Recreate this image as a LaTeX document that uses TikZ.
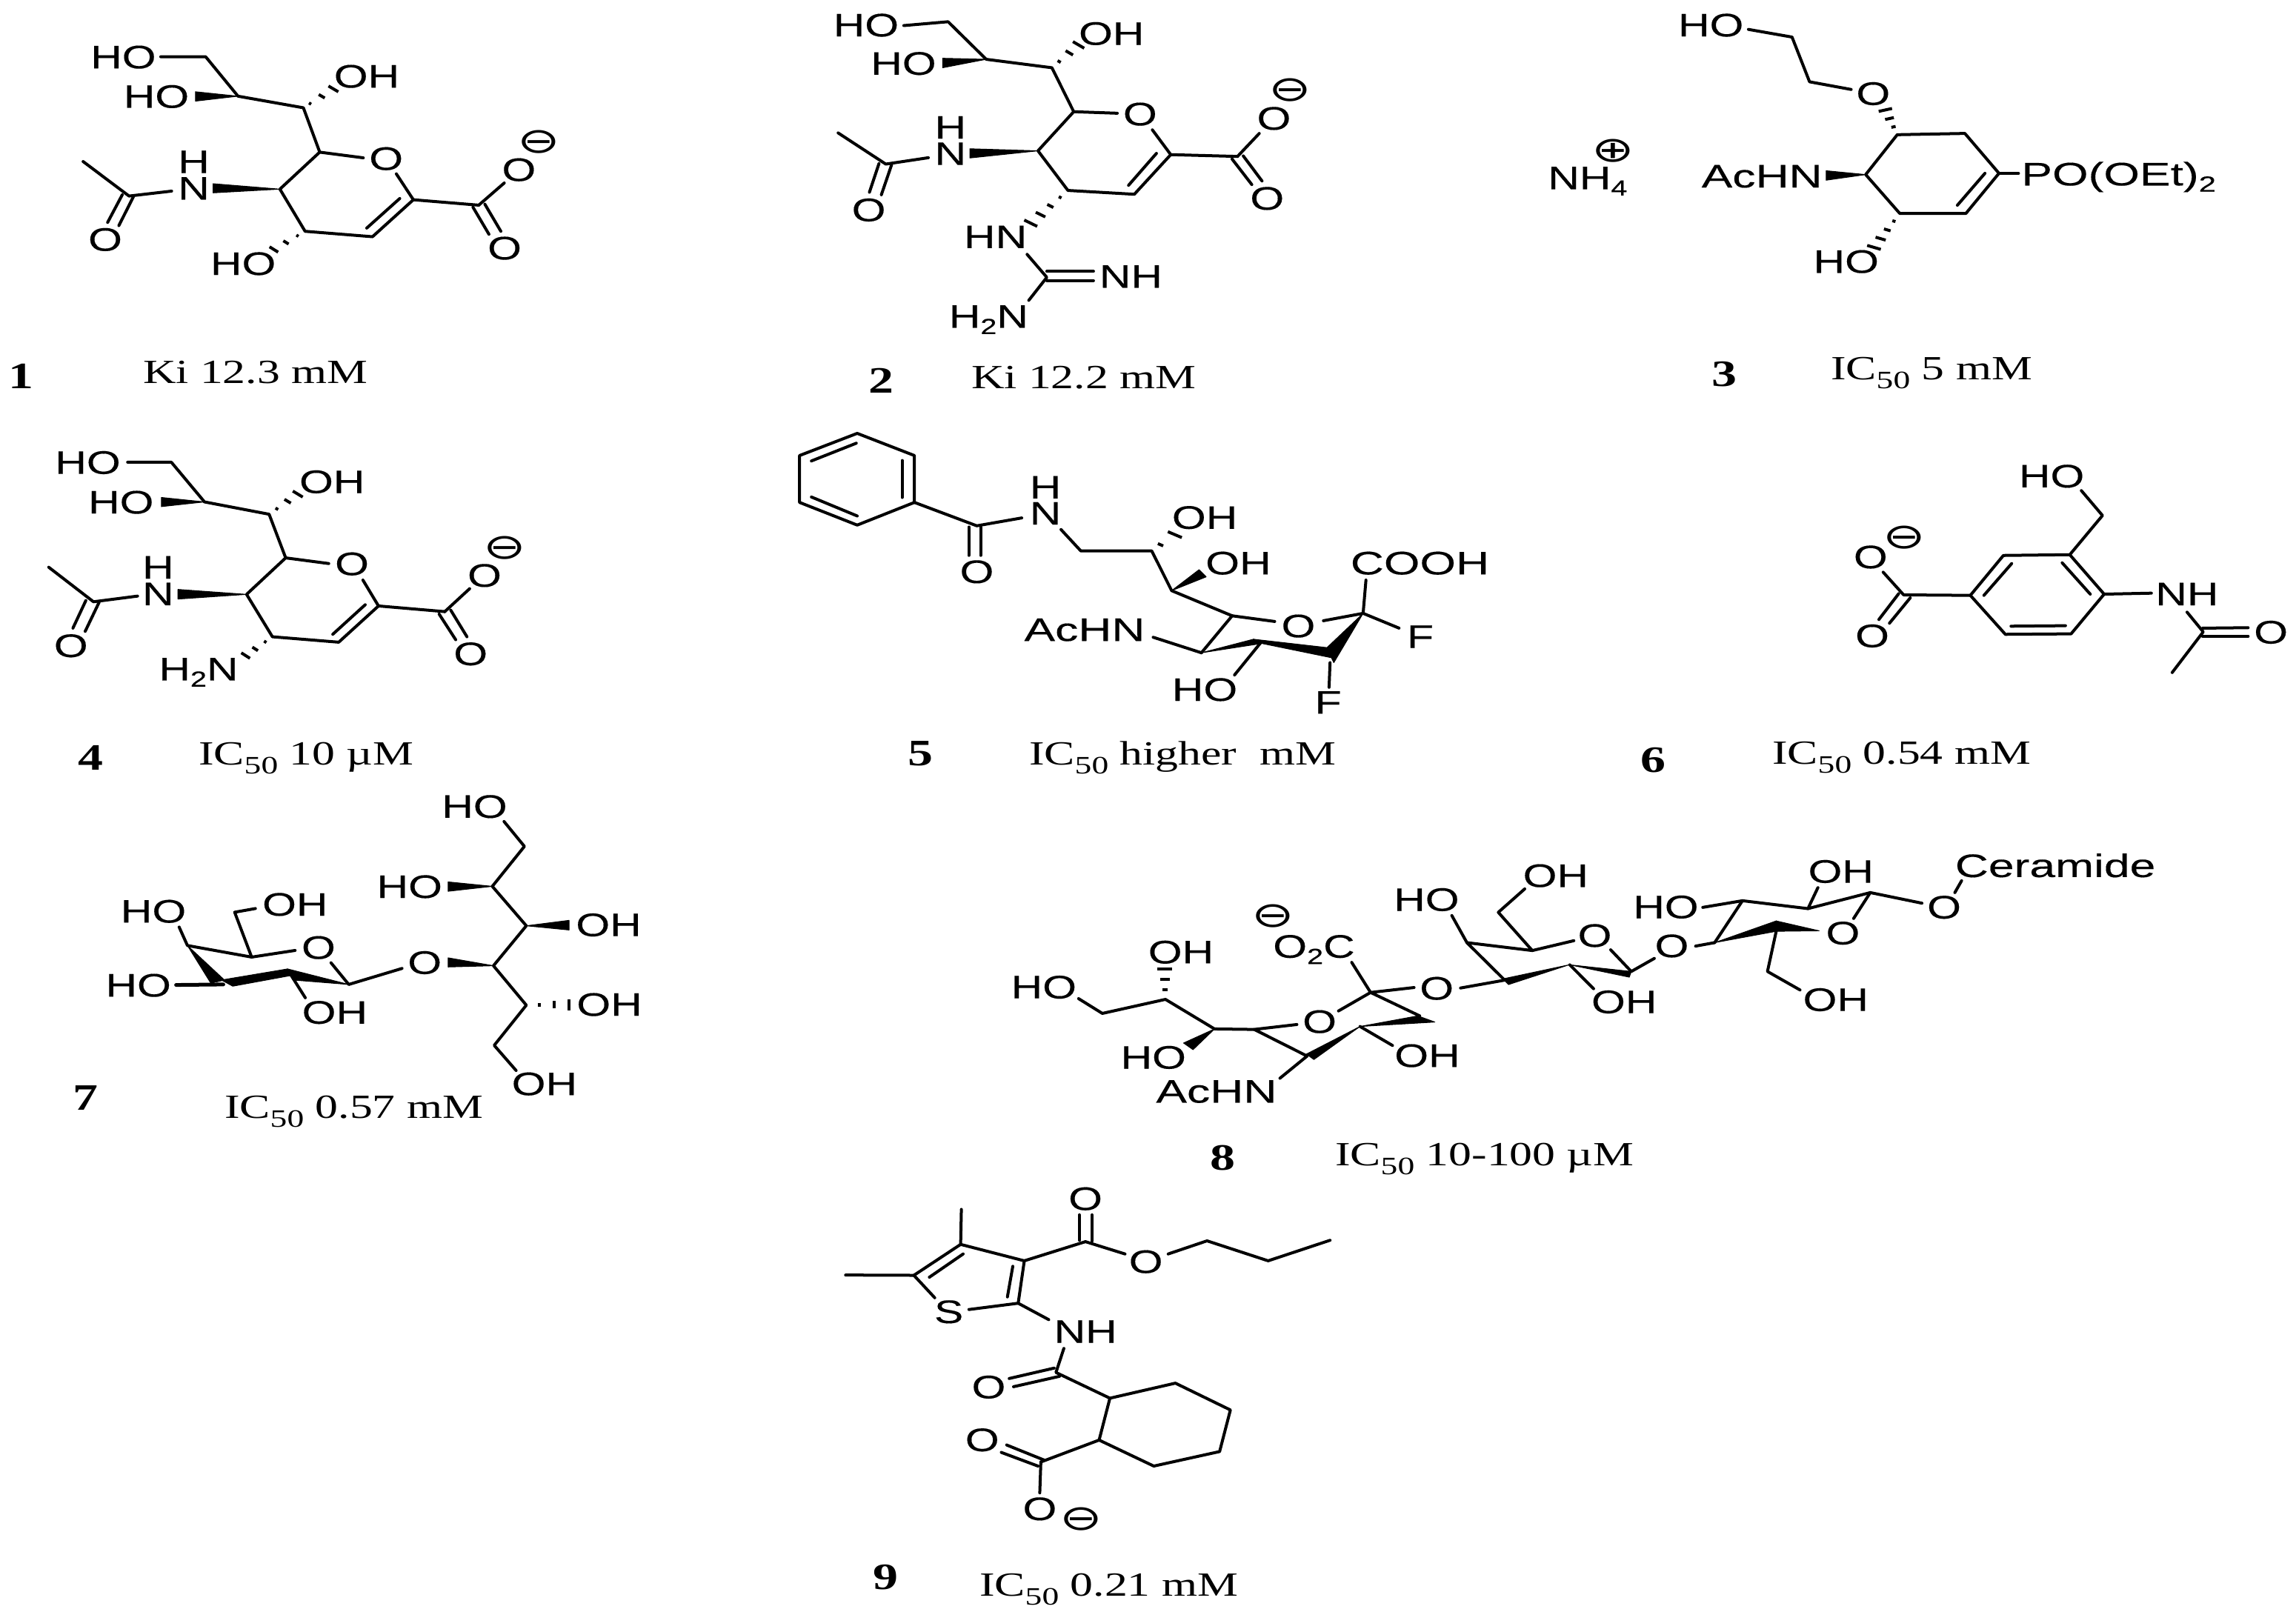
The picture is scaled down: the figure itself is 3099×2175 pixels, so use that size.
\documentclass[tikz,border=0pt]{standalone}
\usepackage{fontspec}
\usetikzlibrary{calc}
\newfontfamily\atomfont[FakeStretch=1.34,FakeBold=0.25]{Liberation Sans}
\newfontfamily\wordfont[FakeStretch=1.42,FakeBold=0.25]{Liberation Sans}
\newfontfamily\capfont[FakeStretch=1.35]{Liberation Serif}
\newfontfamily\chgfont[FakeStretch=1.45]{DejaVu Sans}
\tikzset{
  bond/.style={line width=0.04cm,line join=round,line cap=round,draw=black},
  hashl/.style={line width=0.04cm,line cap=butt,draw=black},
  wedgef/.style={fill=black,draw=black,line width=0.01cm,line join=round},
  atom/.style={inner sep=0pt,outer sep=0pt,anchor=center,font=\atomfont\fontsize{12.5}{12}\selectfont,text height=8.9pt,text depth=0pt},
  wordatom/.style={atom,font=\wordfont\fontsize{12.5}{12}\selectfont},
  chg/.style={inner sep=0pt,outer sep=0pt,anchor=center,font=\chgfont\fontsize{13.5}{13.5}\selectfont},
  capt/.style={inner sep=0pt,outer sep=0pt,anchor=west,font=\capfont\fontsize{13}{13}\selectfont,text height=8.5pt,text depth=0pt},
  numb/.style={inner sep=0pt,outer sep=0pt,anchor=center,font=\capfont\bfseries\fontsize{14.3}{15}\selectfont,text height=9.6pt,text depth=0pt},
}
\newcommand\pts[1]{\foreach \pn/\px/\py in {#1}{\coordinate (\pn) at (\px,\py);}}
\newcommand\bonds[1]{\foreach \ba/\bb in {#1}{\draw[bond] (\ba) -- (\bb);}}
\newcommand\wdg[5]{\fill[wedgef] (#1) -- (#2,#3) -- (#4,#5) -- cycle;}
\newcommand\hsh[5]{\foreach \ht in {#5}{\draw[hashl] ($(#1)!\ht!(#2)$) ++(\ht*#3,\ht*#4) -- ++(-2*\ht*#3,-2*\ht*#4);}}
\newcommand\lab[4]{\node[atom] (#1) at (#2,#3) {#4};}
\newcommand\wlab[4]{\node[wordatom] (#1) at (#2,#3) {#4};}
\newcommand\mns[3]{\node[chg] (#1) at (#2,#3) {⊖};}
\newcommand\sbs[1]{\raisebox{-2.4pt}{\fontsize{8.4}{8}\selectfont #1}}
\newcommand\icf{IC\raisebox{-3.3pt}{\fontsize{9.6}{9}\selectfont 50}}
\begin{document}
\begin{tikzpicture}[x=0.01cm,y=-0.01cm]
\path[fill=white,use as bounding box] (0,0) rectangle (3099,2175);

% ---------- compound 1
\begin{scope}[shift={(80,30)},x=0.004592cm,y=-0.003333cm]
\lab{aHOa}{188}{140}{HO}\lab{aHOb}{285}{300}{HO}\lab{aOHa}{903}{218}{OH}
\lab{aH}{395}{565}{H}\lab{aN}{395}{672}{N}\lab{aOr}{960}{552}{O}
\lab{aOm}{1350}{597}{O}\mns{aChg}{1408}{485}\lab{aOd}{1308}{915}{O}
\lab{aOc}{135}{880}{O}\lab{aHOc}{540}{978}{HO}
\pts{a0/298/140,a1/430/140,a2/525/300,a3/717/347,a4/765/527,a4e/893/550,a5/648/677,a6/722/848,a7/920/870,a8/1040/720,a8e/990/615,a7i/903/835,a8i/1000/715,a9/1232/742,a9e/1307/652,a9p/1215/750,a9q/1262/860,a9r/1250/738,a9s/1297/848,a3h/815/262,a6h/620/930,aNe/330/685,a10/205/705,aMe/70/565,a10p/185/700,a10q/142/812,a10r/218/707,a10s/175/825}
\draw[bond] (a0)--(a1)--(a2)--(a3)--(a4)--(a5)--(a6)--(a7)--(a8)--(a8e);
\draw[bond] (a4)--(a4e);\draw[bond] (aNe)--(a10)--(aMe);
\bonds{a7i/a8i,a8/a9,a9/a9e,a9p/a9q,a9r/a9s,a10p/a10q,a10r/a10s}
\wdg{a2}{400}{282}{400}{320}\wdg{a5}{452}{655}{452}{692}
\hsh{a3}{a3h}{16}{13}{0.2,0.55,0.9}
\hsh{a6}{a6h}{14}{12}{0.22,0.55,0.9}
\end{scope}

% ---------- compound 2
\begin{scope}[shift={(1060,0)},x=0.004592cm,y=-0.003444cm]
\lab{bHOa}{237}{97}{HO}\lab{bHOb}{347}{247}{HO}\lab{bOHa}{958}{130}{OH}
\lab{bH}{485}{497}{H}\lab{bN}{485}{600}{N}\lab{bOr}{1042}{445}{O}
\lab{bOm}{1435}{462}{O}\mns{bChg}{1483}{352}\lab{bOd}{1415}{775}{O}
\lab{bOc}{245}{820}{O}\lab{bHN}{617}{925}{HN}\lab{bNH}{1015}{1080}{NH}
\lab{bHHN}{597}{1237}{H\sbs{2}N}
\pts{b0/348/100,b1/478/85,b2/590/232,b3/783/265,b4/847/437,b4e/975/443,b5/742/590,b6/830/745,b7/1025/760,b8/1132/605,b8e/1078/508,b7i/1008/725,b8i/1090/600,b9/1328/612,b9e/1392/522,b9p/1312/622,b9q/1370/722,b9r/1345/610,b9s/1400/708,b3h/868/168,b6h/715/880,bMe/155/520,b10/295/642,bNe/420/617,b10p/275/640,b10q/247/752,b10r/312/645,b10s/282/762,bg0/710/995,bg/768/1085,bgp/768/1062,bgq/905/1062,bgr/768/1098,bgs/905/1098,bge/715/1175}
\draw[bond] (b0)--(b1)--(b2)--(b3)--(b4)--(b5)--(b6)--(b7)--(b8)--(b8e);
\draw[bond] (b4)--(b4e);\draw[bond] (bNe)--(b10)--(bMe);\draw[bond] (bg0)--(bg)--(bge);
\bonds{b7i/b8i,b8/b9,b9/b9e,b9p/b9q,b9r/b9s,b10p/b10q,b10r/b10s,bgp/bgq,bgr/bgs}
\wdg{b2}{462}{228}{462}{265}\wdg{b5}{542}{582}{542}{618}
\hsh{b3}{b3h}{18}{14}{0.25,0.6,0.92}
\hsh{b6}{b6h}{20}{13}{0.2,0.45,0.7,0.95}
\end{scope}

% ---------- compound 3
\begin{scope}[shift={(2040,0)},x=0.006754cm,y=-0.003444cm]
\lab{cHOa}{398}{97}{HO}\lab{cO}{722}{365}{O}
\node[chg] (cChg) at (203,590) {⊕};
\lab{cNH}{152}{695}{NH\sbs{4}}
\wlab{cAc}{500}{688}{AcHN}\wlab{cPO}{1212}{680}{PO(OEt)\sbs{2}}\lab{cHOb}{668}{1022}{HO}
\pts{c0/473/115,c1/560/145,c2/595/320,c3/678/350,cr1/770/527,cr2/905/522,cr3/973/678,cr4/907/835,cr5/775/835,cr6/707/683,cip/945/678,ciq/890/803,cPe/1012/678,ch1/745/425,ch2/722/972}
\draw[bond] (c0)--(c1)--(c2)--(c3);
\draw[bond] (cr1)--(cr2)--(cr3)--(cr4)--(cr5)--(cr6)--cycle;
\bonds{cip/ciq,cr3/cPe}
\wdg{cr6}{628}{668}{628}{705}
\hsh{cr1}{ch1}{14}{-6}{0.3,0.62,0.95}
\hsh{cr5}{ch2}{14}{8}{0.22,0.47,0.72,0.97}
\end{scope}

% ---------- compound 4
\begin{scope}[shift={(30,580)},x=0.004464cm,y=-0.003333cm]
\lab{dHOa}{198}{132}{HO}\lab{dHOb}{298}{293}{HO}\lab{dOHa}{935}{210}{OH}
\lab{dH}{410}{557}{H}\lab{dN}{410}{665}{N}\lab{dOr}{995}{543}{O}
\lab{dOm}{1395}{590}{O}\mns{dChg}{1457}{478}\lab{dOd}{1353}{908}{O}
\lab{dOc}{147}{875}{O}\lab{dHHN}{532}{970}{H\sbs{2}N}
\pts{d0/318/132,d1/450/132,d2/550/293,d3/745/343,d4/795/520,d4e/925/543,d5/677/668,d6/755/840,d7/955/862,d8/1075/715,d8e/1028/610,d7i/937/830,d8i/1035/710,d9/1275/738,d9e/1350/645,d9p/1258/748,d9q/1308/852,d9r/1293/732,d9s/1342/840,d3h/838/255,d6h/668/922,dNe/348/675,d10/215/698,dMe/80/558,d10p/192/693,d10q/153/805,d10r/232/700,d10s/190/818}
\draw[bond] (d0)--(d1)--(d2)--(d3)--(d4)--(d5)--(d6)--(d7)--(d8)--(d8e);
\draw[bond] (d4)--(d4e);\draw[bond] (dNe)--(d10)--(dMe);
\bonds{d7i/d8i,d8/d9,d9/d9e,d9p/d9q,d9r/d9s,d10p/d10q,d10r/d10s}
\wdg{d2}{420}{275}{420}{312}\wdg{d5}{470}{648}{470}{687}
\hsh{d3}{d3h}{16}{13}{0.25,0.6,0.93}
\hsh{d6}{d6h}{14}{12}{0.25,0.6,0.93}
\end{scope}

% ---------- compound 5
\begin{scope}[shift={(1060,570)},x=0.006378cm,y=-0.003333cm]
\lab{eO}{405}{605}{O}\lab{eH}{550}{262}{H}\lab{eN}{550}{368}{N}
\lab{eOHa}{887}{385}{OH}\lab{eOHb}{958}{570}{OH}\wlab{eCOOH}{1342}{570}{COOH}
\wlab{eAc}{633}{840}{AcHN}\lab{eOr}{1085}{825}{O}\lab{eFa}{1343}{868}{F}
\lab{eFb}{1148}{1135}{F}\lab{eHO}{887}{1083}{HO}
\pts{e1/152/45,e2/273/135,e3/273/325,e4/152/417,e5/30/325,e6/30/135,e1i/150/85,e6i/55/157,e2i/247/155,e3i/247/305,e4i/152/380,e5i/55/303,ec/405/420,eNe/500/388,ecp/388/425,ecq/388/540,ecr/413/425,ecs/413/540,eN2/583/435,ea/625/522,eb/775/522,ef/817/683,eg/945/785,eOe/1035/808,eOf/1138/805,eq/1222/775,et/880/935,eAe/778/872,eu/1005/895,ev/1152/975,eFe/1150/1075,eFf/1298/835,eCe/1228/640,eHe/950/1025,ebh/828/450}
\draw[bond] (e1)--(e2)--(e3)--(e4)--(e5)--(e6)--cycle;
\bonds{e1i/e6i,e2i/e3i,e4i/e5i,ecp/ecq,ecr/ecs,eg/et,eAe/et,eOf/eq,ev/eFe,eq/eFf,eCe/eq,eu/eHe,eg/eOe}
\draw[bond] (e3)--(ec)--(eNe);
\draw[bond] (eN2)--(ea)--(eb)--(ef)--(eg);
\wdg{et}{990}{880}{1015}{895}
\fill[wedgef] (990,880) -- (1150,915) -- (1155,955) -- (1010,898) -- cycle;
\wdg{eq}{1145}{915}{1160}{975}
\wdg{ef}{875}{598}{890}{627}
\hsh{eb}{ebh}{16}{13}{0.35,0.92}
\end{scope}

% ---------- compound 6
\begin{scope}[shift={(2400,600)},x=0.004458cm,y=-0.003333cm]
\lab{fHO}{828}{127}{HO}\lab{fOm}{280}{455}{O}\mns{fChg}{383}{377}
\lab{fOd}{285}{775}{O}\lab{fNH}{1238}{605}{NH}\lab{fOc}{1492}{760}{O}
\pts{f1/582/612,f2/682/450,f3/883/447,f4/987/607,f5/887/768,f6/688/770,f1i/623/612,f2i/707/483,f3i/860/480,f4i/945/607,f5i/870/735,f6i/705/737,f7/982/288,f7e/918/187,fNe/1130/603,fc/380/610,fce/318/518,fcp/365/605,fcq/305/710,fcr/400/622,fcs/337/725,fNf/1238/680,fa/1287/760,fMe/1193/925,fap/1285/745,faq/1423/743,far/1285/778,fas/1423/778}
\draw[bond] (f1)--(f2)--(f3)--(f4)--(f5)--(f6)--cycle;
\bonds{f1i/f2i,f3i/f4i,f5i/f6i,f4/fNe,fcp/fcq,fcr/fcs,fap/faq,far/fas}
\draw[bond] (f3)--(f7)--(f7e);
\draw[bond] (f1)--(fc)--(fce);
\draw[bond] (fNf)--(fa)--(fMe);
\end{scope}

% ---------- compound 7
\begin{scope}[shift={(100,1050)},x=0.005102cm,y=-0.003333cm]
\lab{gHOa}{1060}{115}{HO}\lab{gHOb}{888}{440}{HO}\lab{gOHa}{1415}{595}{OH}
\lab{gOg}{928}{748}{O}\lab{gOHb}{1417}{918}{OH}\lab{gOHc}{1245}{1240}{OH}
\lab{gHOc}{210}{540}{HO}\lab{gOHd}{585}{512}{OH}\lab{gOr}{647}{687}{O}
\lab{gHOd}{170}{840}{HO}\lab{gOHe}{690}{950}{OH}
\pts{g0/1138/177,g1/1192/278,g2/1107/440,g3/1197/600,g4/1110/762,g5/1197/922,g6/1112/1085,g7/1170/1187,g5h/1315/920,gOe/868/773,ga/727/838,gOf/680/750,gOh/585/700,gb/470/727,gc/425/545,gOHx/480/530,gd/300/680,gHx/278/605,ge/570/790,gOy/612/892,gHz/270/840,gf/395/838}
\draw[bond] (g0)--(g1)--(g2)--(g3)--(g4)--(g5)--(g6)--(g7);
\draw[bond] (gOe)--(ga)--(gOf);
\draw[bond] (gOh)--(gb)--(gc)--(gOHx);
\draw[bond] (gb)--(gd)--(gHx);
\bonds{ge/gOy}
\draw[bond,line width=0.05cm] (gHz)--(gf);
\wdg{g2}{990}{422}{990}{460}\wdg{g3}{1310}{578}{1310}{617}\wdg{g4}{990}{730}{990}{767}
\hsh{g5}{g5h}{0}{24}{0.3,0.62,0.95}
\wdg{gd}{362}{833}{398}{820}
\fill[wedgef] (390,820) -- (565,775) -- (580,800) -- (420,845) -- cycle;
\wdg{ga}{565}{775}{580}{820}
\end{scope}

% ---------- compound 8 (left part)
\begin{scope}[shift={(1340,1140)},x=0.005102cm,y=-0.003333cm]
\lab{hHOa}{135}{577}{HO}\lab{hOHa}{498}{435}{OH}\lab{hHOb}{425}{862}{HO}
\wlab{hAc}{592}{1000}{AcHN}\mns{hChg}{742}{290}\lab{hOC}{850}{412}{O\sbs{2}C}
\lab{hOr}{865}{717}{O}\lab{hOg}{1175}{582}{O}\lab{hOHb}{1150}{855}{OH}
\lab{hHOc}{1148}{222}{HO}\lab{hOHc}{1490}{125}{OH}
\pts{h0/227/625,h1/290/685,h2/457/628,h3/587/748,h4/692/750,h4e/805/730,h5/832/858,h5e/760/948,h6/972/738,h6e/1058/815,h7/1000/600,h7a/1130/695,h7b/915/675,h7c/950/478,h7d/1115/580,hOf/1238/582,hm/1355/550,hn/1525/488,h2h/455/505,ho/1255/398,hp/1428/430,hq/1338/275,hqe/1408/180,hoe/1215/288,hpe/1538/390}
\draw[bond] (h0)--(h1)--(h2)--(h3)--(h4)--(h4e);
\draw[bond] (h4)--(h5)--(h5e);
\bonds{h6/h6e,h7/h7a,h7/h7b,h7/h7c,h7/h7d,hOf/hm,ho/hoe,hp/hpe}
\draw[bond] (hm)--(ho)--(hp)--(hq)--(hqe);
\wdg{h3}{505}{805}{530}{832}
\hsh{h2}{h2h}{20}{0}{0.32,0.66,1.0}
\wdg{h6}{830}{850}{850}{872}
\fill[wedgef] (h6) -- (1125,695) -- (1170,720) -- cycle;
\wdg{hn}{1350}{545}{1365}{568}
\end{scope}

% ---------- compound 8 (right part)
\begin{scope}[shift={(2100,1120)},x=0.005357cm,y=-0.003333cm]
\lab{kOr}{98}{428}{O}\lab{kOHa}{172}{697}{OH}\lab{kOg}{292}{470}{O}
\lab{kHO}{277}{312}{HO}\lab{kOHb}{718}{168}{OH}\lab{kOs}{723}{418}{O}
\lab{kOHc}{705}{688}{OH}\lab{kOt}{978}{313}{O}\wlab{kCer}{1258}{145}{Ceramide}
\pts{k1/35/548,k2/95/645,k3/138/487,k4/190/575,k5/248/522,k6/352/472,k7/400/458,k8/470/288,k9/370/315,k10/635/320,k11/660/235,k12/792/255,k13/750/360,k14/922/298,k15/1005/255,k16/1022/207,k17/555/412,k18/533/575,k19/615/650}
\bonds{k1/k2,k6/k7,k9/k8,k10/k11,k12/k13,k15/k16}
\draw[bond] (k3)--(k4)--(k5);
\draw[bond] (k7)--(k8)--(k10)--(k12)--(k14);
\draw[bond] (k17)--(k18)--(k19);
\wdg{k1}{190}{575}{185}{598}
\wdg{k7}{555}{370}{555}{412}
\fill[wedgef] (663,410) -- (555,370) -- (555,412) -- cycle;
\end{scope}

% ---------- compound 9
\begin{scope}[shift={(1100,1580)},x=0.004847cm,y=-0.003699cm]
\lab{mOa}{752}{102}{O}\lab{mOb}{920}{332}{O}\lab{mS}{372}{515}{S}
\lab{mNH}{752}{587}{NH}\lab{mOc}{483}{790}{O}\lab{mOd}{465}{983}{O}
\lab{mOe}{625}{1235}{O}\mns{mChg}{740}{1275}
\pts{m1/407/142,m2/405/270,m3/582/330,m4/275/383,m4i/318/390,m2i/412/305,mMe/85/382,mSa/333/465,mSb/428/508,m5/565/485,m5i/535/462,m3i/550/350,m6/752/260,m6p/735/162,m6q/735/255,m6r/770/162,m6s/770/258,mOf/862/305,mOg/982/305,m7/1090/257,m8/1260/330,m9/1432/255,mNa/650/545,mNb/692/650,m10/670/738,m10p/540/760,m10q/665/722,m10r/552/790,m10s/680/752,mr1/820/832,mr2/1002/777,mr3/1155/875,mr4/1125/1027,mr5/942/1080,mr6/790/985,m11/628/1065,m11p/533/1003,m11q/637/1058,m11r/518/1030,m11s/620/1080,m11t/625/1178}
\bonds{m1/m2,m2/m3,m2/m4,m4i/m2i,mMe/m4,m3i/m5i,m6p/m6q,m6r/m6s,m6/mOf,m5/mNa,m10p/m10q,m10r/m10s,m11p/m11q,m11r/m11s,m11/m11t}
\draw[bond] (m4)--(mSa);\draw[bond] (mSb)--(m5)--(m3)--(m6);
\draw[bond] (mOg)--(m7)--(m8)--(m9);
\draw[bond] (mNb)--(m10)--(mr1);
\draw[bond] (mr1)--(mr2)--(mr3)--(mr4)--(mr5)--(mr6)--cycle;
\draw[bond] (mr6)--(m11);
\end{scope}

% ---------- captions and numbers
\node[numb] (n1) at (28,508) {1};\node[capt] (t1) at (193,503) {Ki 12.3 mM};
\node[numb] (n2) at (1189,514) {2};\node[capt] (t2) at (1311,510) {Ki 12.2 mM};
\node[numb] (n3) at (2327,505) {3};\node[capt] (t3) at (2471,498) {\icf{} 5 mM};
\node[numb] (n4) at (122,1023) {4};\node[capt] (t4) at (268,1018) {\icf{} 10 µM};
\node[numb] (n5) at (1242,1017) {5};\node[capt] (t5) at (1389,1018) {\icf{} higher\ \ mM};
\node[numb] (n6) at (2231,1026) {6};\node[capt] (t6) at (2392,1017) {\icf{} 0.54 mM};
\node[numb] (n7) at (115,1482) {7};\node[capt] (t7) at (303,1495) {\icf{} 0.57 mM};
\node[numb] (n8) at (1650,1563) {8};\node[capt] (t8) at (1802,1559) {\icf{} 10-100 µM};
\node[numb] (n9) at (1195,2129) {9};\node[capt] (t9) at (1322,2140) {\icf{} 0.21 mM};
\end{tikzpicture}
\end{document}
